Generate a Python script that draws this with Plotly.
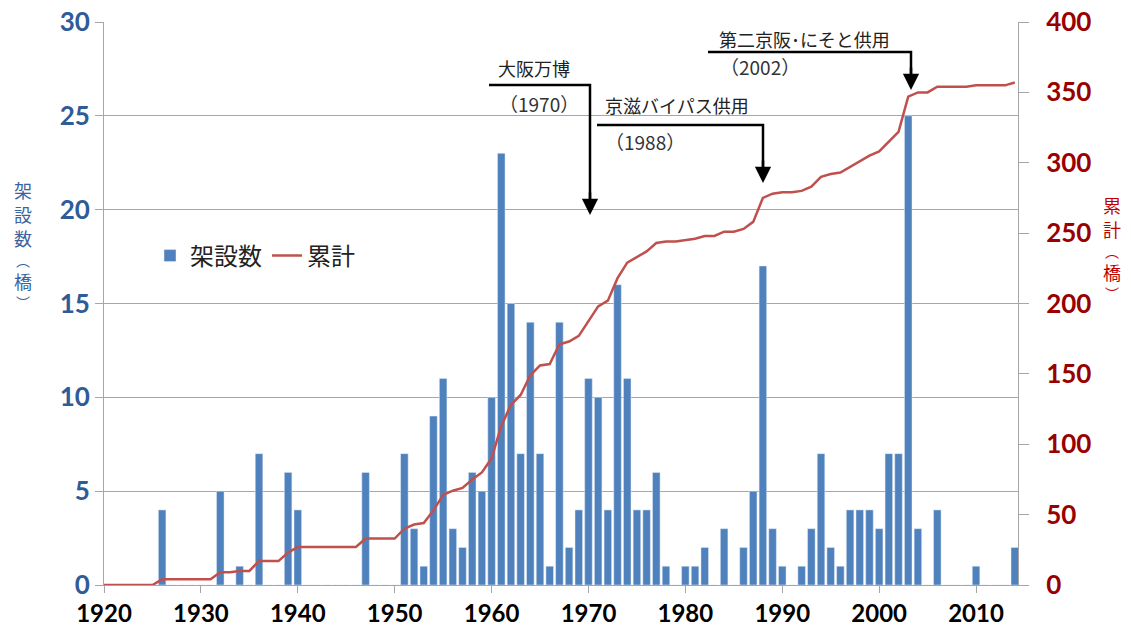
import plotly.graph_objects as go

# ---- data ----
years = list(range(1920, 2015))
counts = [0, 0, 0, 0, 0, 0, 4, 0, 0, 0,          # 1920-1929
          0, 0, 5, 0, 1, 0, 7, 0, 0, 6,          # 1930-1939
          4, 0, 0, 0, 0, 0, 0, 6, 0, 0,          # 1940-1949
          0, 7, 3, 1, 9, 11, 3, 2, 6, 5,         # 1950-1959
          10, 23, 15, 7, 14, 7, 1, 14, 2, 4,     # 1960-1969
          11, 10, 4, 16, 11, 4, 4, 6, 1, 0,      # 1970-1979
          1, 1, 2, 0, 3, 0, 2, 5, 17, 3,         # 1980-1989
          1, 0, 1, 3, 7, 2, 1, 4, 4, 4,          # 1990-1999
          3, 7, 7, 25, 3, 0, 4, 0, 0, 0,         # 2000-2009
          1, 0, 0, 0, 2]                          # 2010-2014
cumulative = [0, 0, 0, 0, 0, 0, 4, 4, 4, 4,
              4, 4, 9, 9, 10, 10, 17, 17, 17, 23,
              27, 27, 27, 27, 27, 27, 27, 33, 33, 33,
              33, 40, 43, 44, 53, 64, 67, 69, 75, 80,
              90, 113, 128, 135, 149, 156, 157, 171, 173, 177,
              188, 198, 202, 218, 229, 233, 237, 243, 244, 244,
              245, 246, 248, 248, 251, 251, 253, 258, 275, 278,
              279, 279, 280, 283, 290, 292, 293, 297, 301, 305,
              308, 315, 322, 347, 350, 350, 354, 354, 354, 354,
              355, 355, 355, 355, 357]
x_ticks = [1920, 1930, 1940, 1950, 1960, 1970, 1980, 1990, 2000, 2010]
events = [  # label, year label
    ("大阪万博", "（1970）"),
    ("京滋バイパス供用", "（1988）"),
    ("第二京阪･にそと供用", "（2002）"),
]
left_title = ["架", "設", "数", "︵", "橋", "︶"]
right_title = ["累", "計", "︵", "橋", "︶"]

# ---- layout geometry (pixels) ----
W, H = 1131, 639
L, R, T, B = 104, 1018, 22, 585
PW, PH = R - L, B - T


def px(x):
    return (x - L) / PW


def py(y):
    return (B - y) / PH


BLUE_BAR = "#4F81BD"
RED_LINE = "#C0504D"
BLUE_TXT = "#2F5B97"
RED_TXT = "#990000"
GRID = "#A6A6A6"
JP = "Noto Sans CJK JP"
NUM = dict(family="Lato", weight="bold")

fig = go.Figure()
fig.add_trace(go.Bar(x=years, y=counts, name="架設数", marker_color=BLUE_BAR,
                     width=0.78, yaxis="y"))
fig.add_trace(go.Scatter(x=years, y=cumulative, name="累計", mode="lines",
                         line=dict(color=RED_LINE, width=2.5), yaxis="y2"))

fig.update_layout(
    width=W, height=H,
    margin=dict(l=L, r=W - R, t=T, b=H - B, autoexpand=False),
    paper_bgcolor="white", plot_bgcolor="white",
    showlegend=True,
    legend=dict(orientation="h", x=px(150), y=py(256), xanchor="left", yanchor="middle",
                font=dict(family=JP, size=24, color="#222222"),
                bgcolor="rgba(0,0,0,0)", itemwidth=30),
    xaxis=dict(range=[1920, 2014.33], tickvals=x_ticks, showgrid=False,
               ticks="outside", ticklen=7, tickcolor=GRID, automargin=False,
               showline=True, linecolor=GRID, linewidth=1,
               tickfont=dict(size=24, color="black", **NUM)),
    yaxis=dict(range=[0, 30], dtick=5, showgrid=True, gridcolor=GRID, gridwidth=1,
               zeroline=False, ticks="outside", ticklen=8, tickcolor=GRID,
               showline=True, linecolor=GRID, automargin=False,
               tickfont=dict(size=26, color=BLUE_TXT, **NUM)),
    yaxis2=dict(range=[0, 400], dtick=50, overlaying="y", side="right",
                showgrid=False, zeroline=False, ticks="outside", ticklen=10,
                tickcolor=GRID, showline=True, linecolor=GRID, automargin=False,
                ticklabelstandoff=12,
                tickfont=dict(size=26, color=RED_TXT, **NUM)),
    bargap=0.2,
)

annotations = []
shapes = []

# axis titles (vertical Japanese text, one character per annotation)
for ch, yy in zip(left_title, [190, 214, 238, 260, 281, 302]):
    small = ch in "︵︶"
    annotations.append(dict(xref="paper", yref="paper", x=px(23), y=py(yy), text=ch,
                            showarrow=False, xanchor="center", yanchor="middle",
                            font=dict(family=JP, size=14 if small else 18, color="#3B63A0")))
for ch, yy in zip(right_title, [205, 229, 251, 272, 293]):
    small = ch in "︵︶"
    annotations.append(dict(xref="paper", yref="paper", x=px(1112), y=py(yy), text=ch,
                            showarrow=False, xanchor="center", yanchor="middle",
                            font=dict(family=JP, size=14 if small else 18, color="#C00000")))

# event callouts: (text_x, text_y, sub_x, sub_y, line_x0, line_y, tip_x, tip_y)
geo = [
    (496, 68, 497, 103, 489, 85, 590, 215),
    (603, 105, 603, 142, 597, 125, 763, 183),
    (717, 39, 718, 67, 708, 52, 911, 90),
]
for (label, sub), (tx, ty, sx, sy, lx0, ly, tipx, tipy) in zip(events, geo):
    annotations.append(dict(xref="paper", yref="paper", x=px(tx), y=py(ty), text=label,
                            showarrow=False, xanchor="left", yanchor="middle",
                            font=dict(family=JP, size=18, color="#222222")))
    annotations.append(dict(xref="paper", yref="paper", x=px(sx), y=py(sy), text=sub,
                            showarrow=False, xanchor="left", yanchor="middle",
                            font=dict(family=JP, size=19, color="#333333")))
    shapes.append(dict(type="path", xref="paper", yref="paper",
                       path=f"M{px(lx0)},{py(ly)} L{px(tipx)},{py(ly)} L{px(tipx)},{py(tipy - 8)}",
                       line=dict(color="black", width=2.5)))
    annotations.append(dict(xref="paper", yref="paper", x=px(tipx), y=py(tipy), text="",
                            showarrow=True, ax=0, ay=-24, arrowhead=2, arrowsize=1.3,
                            arrowwidth=2.5, arrowcolor="black"))

fig.update_layout(annotations=annotations, shapes=shapes)
fig.write_html("out.html", config={"displayModeBar": False},
               post_script="document.body.style.margin='0px';")
